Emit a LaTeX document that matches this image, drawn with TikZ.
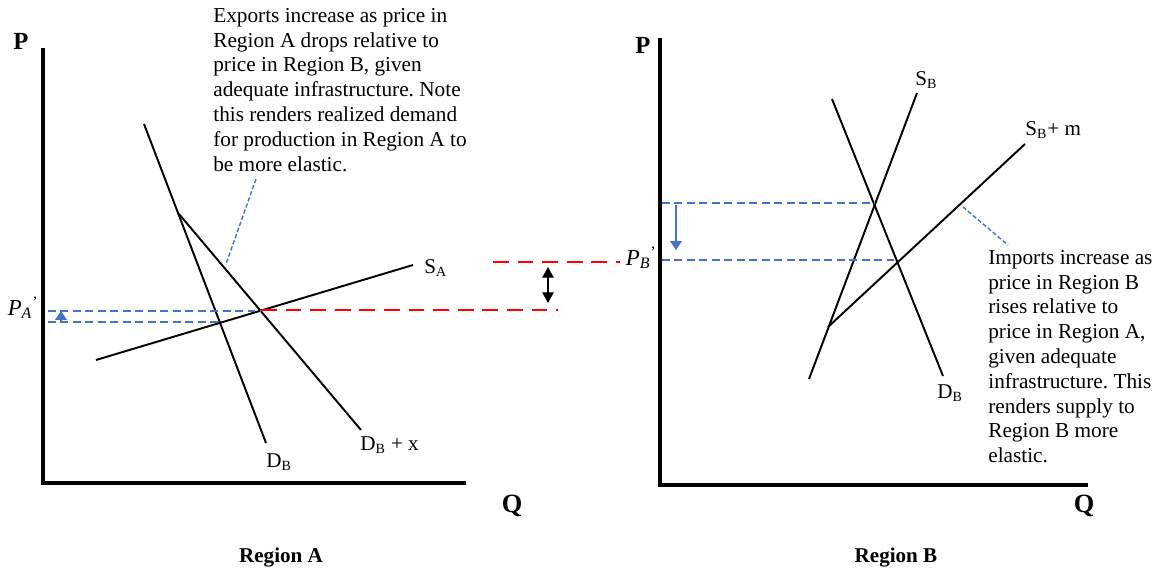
\documentclass[tikz,border=0pt]{standalone}
\usepackage{fontspec}
\setmainfont{Liberation Serif}
\usetikzlibrary{arrows.meta}
\definecolor{guideblue}{HTML}{4472C4}
\frenchspacing

\begin{document}
\begin{tikzpicture}[
        x=0.02cm, y=-0.02cm,
        axis/.style={line width=2pt},
        curve/.style={line width=1.1pt},
        guide/.style={guideblue, line width=1pt, dash pattern=on 4.5pt off 2.6pt},
        gap/.style={red, line width=1.1pt, dash pattern=on 9pt off 5pt},
        callout/.style={guideblue, line width=0.8pt, dash pattern=on 2.4pt off 1.3pt},
        lbl/.style={inner sep=0pt, font=\fontsize{12}{14}\selectfont},
        note/.style={inner sep=0pt, align=left, anchor=north west,
            font=\fontsize{12.1}{14.1}\selectfont}
    ]
        \useasboundingbox (0,0) rectangle (1157,571);

        % Region A
        \coordinate (oA) at (43,483);
        \coordinate (pA) at (43,48);
        \coordinate (qA) at (466,483);
        \coordinate (dTop) at (144,124);
        \coordinate (dBot) at (266,443);
        \coordinate (kink) at (179,214);
        \coordinate (dxBot) at (361,430);
        \coordinate (sLo) at (96,360);
        \coordinate (sHi) at (413,265);
        \coordinate (eqX) at (261,311);
        \coordinate (eqA) at (220,322);
        \coordinate (gA1) at (48,311);
        \coordinate (gA2) at (48,322);

        \draw[axis] (pA) -- (oA) -- (qA);
        \draw[curve] (dTop) -- (dBot);
        \draw[curve] (kink) -- (dxBot);
        \draw[curve] (sLo) -- (sHi);
        \draw[guide] (gA1) -- (eqX);
        \draw[guide] (gA2) -- (eqA);
        \draw[guideblue, line width=1pt, -{Triangle[length=5pt,width=6.5pt]}]
            (61,322) -- (61,311);

        \node[lbl, font=\fontsize{14}{16}\bfseries] (labPA) at (21,41) {P};
        \node[lbl, font=\fontsize{15}{17}\bfseries] (labQA) at (512,506) {Q};
        \node[lbl, font=\fontsize{12}{14}\bfseries] (regA) at (281,558) {Region A};
        \node[lbl, anchor=east, font=\fontsize{13}{15}\selectfont] (priceA) at (39,308)
            {\textit{P}\textsubscript{\textit{A}}\textsuperscript{’}};
        \node[lbl, anchor=west] (labSA) at (424,268) {S\textsubscript{A}};
        \node[lbl, anchor=west] (labDB) at (266,462) {D\textsubscript{B}};
        \node[lbl, anchor=west] (labDX) at (360,445) {D\textsubscript{B} + x};

        \node[note] (noteA) at (213,8) {
            Exports increase as price in\\
            Region A drops relative to\\
            price in Region B, given\\
            adequate infrastructure. Note\\
            this renders realized demand\\
            for production in Region A to\\
            be more elastic.
        };
        \coordinate (cA1) at (256,179);
        \coordinate (cA2) at (226,264);
        \draw[callout] (cA1) -- (cA2);

        % gap between the regions
        \coordinate (rA1) at (261,310);
        \coordinate (rA2) at (558,310);
        \coordinate (rB1) at (493,262);
        \coordinate (rB2) at (620,262);
        \draw[gap] (rA1) -- (rA2);
        \draw[gap] (rB1) -- (rB2);
        \coordinate (hiGap) at (548,267);
        \coordinate (loGap) at (548,303);
        \draw[line width=0.6pt, {Triangle[length=6pt,width=6.5pt]}-{Triangle[length=6pt,width=6.5pt]}]
            (hiGap) -- (loGap);

        % Region B
        \coordinate (oB) at (660,485);
        \coordinate (pB) at (660,38);
        \coordinate (qB) at (1088,485);
        \coordinate (dbTop) at (832,99);
        \coordinate (dbBot) at (943,376);
        \coordinate (sbBot) at (809,379);
        \coordinate (sbTop) at (917,93);
        \coordinate (mKink) at (828,327);
        \coordinate (mTop) at (1025,144);
        \coordinate (eqB) at (875,203);
        \coordinate (eqM) at (898,260);
        \coordinate (gB1) at (662,203);
        \coordinate (gB2) at (662,260);

        \draw[axis] (pB) -- (oB) -- (qB);
        \draw[curve] (dbTop) -- (dbBot);
        \draw[curve] (sbBot) -- (sbTop);
        \draw[curve] (mKink) -- (mTop);
        \draw[guide] (gB1) -- (eqB);
        \draw[guide] (gB2) -- (eqM);
        \draw[guideblue, line width=1pt, -{Triangle[length=5pt,width=6.5pt]}]
            (676,205) -- (676,250);

        \node[lbl, font=\fontsize{14}{16}\bfseries] (labPB) at (643,45) {P};
        \node[lbl, font=\fontsize{15}{17}\bfseries] (labQB) at (1084,506) {Q};
        \node[lbl, font=\fontsize{12}{14}\bfseries] (regB) at (896,558) {Region B};
        \node[lbl, anchor=east, font=\fontsize{13}{15}\selectfont] (priceB) at (657,258)
            {\textit{P}\textsubscript{\textit{B}}\textsuperscript{’}};
        \node[lbl, anchor=west] (labSB) at (915,80) {S\textsubscript{B}};
        \node[lbl, anchor=west] (labSM) at (1025,130) {S\textsubscript{B}+ m};
        \node[lbl, anchor=west] (labDB2) at (937,393) {D\textsubscript{B}};

        \node[note] (noteB) at (988,250) {
            Imports increase as\\
            price in Region B\\
            rises relative to\\
            price in Region A,\\
            given adequate\\
            infrastructure. This\\
            renders supply to\\
            Region B more\\
            elastic.
        };
        \coordinate (cB1) at (963,207);
        \coordinate (cB2) at (1008,245);
        \draw[callout] (cB1) -- (cB2);
    \end{tikzpicture}
\end{document}
